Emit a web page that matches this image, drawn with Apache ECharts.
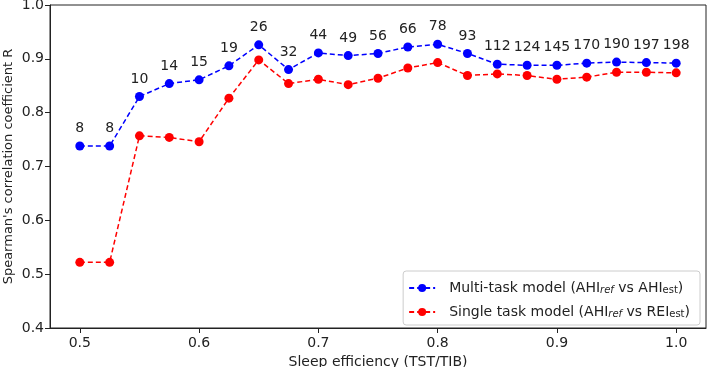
<!DOCTYPE html>
<html>
<head>
<meta charset="utf-8">
<script src="https://cdn.jsdelivr.net/npm/echarts@6/dist/echarts.min.js"></script>
<style>
  html, body { margin: 0; padding: 0; background: #fff; }
  #chart { width: 708px; height: 367px; }
</style>
</head>
<body>
<div id="chart"></div>
<script>
// sleep efficiency thresholds
var efficiency = [0.5, 0.525, 0.55, 0.575, 0.6, 0.625, 0.65, 0.675, 0.7, 0.725, 0.75,
  0.775, 0.8, 0.825, 0.85, 0.875, 0.9, 0.925, 0.95, 0.975, 1.0]
// multi-task model R
var multiTask = [0.738, 0.738, 0.830, 0.854, 0.861, 0.887, 0.926, 0.880, 0.911, 0.906, 0.910,
  0.922, 0.927, 0.910, 0.890, 0.888, 0.888, 0.892, 0.894, 0.893, 0.892]
// single task model R
var singleTask = [0.522, 0.522, 0.757, 0.754, 0.746, 0.827, 0.898, 0.854, 0.862, 0.852, 0.864,
  0.883, 0.893, 0.869, 0.872, 0.869, 0.862, 0.866, 0.875, 0.875, 0.874]
// number of subjects per point
var counts = [8, 8, 10, 14, 15, 19, 26, 32, 44, 49, 56, 66, 78, 93, 112, 124, 145, 170, 190, 197, 198]
var xTicks = [0.5, 0.6, 0.7, 0.8, 0.9, 1.0]

var font = 'DejaVu Sans'
var ink = '#222'

function pairs (ys) {
  return efficiency.map(function (x, i) { return [x, ys[i]] })
}

var chart = echarts.init(document.getElementById('chart'))

var sub = { fontSize: 10, fontFamily: font, color: ink, verticalAlign: 'bottom', lineHeight: 10, padding: [8, 0, 0, 0] }

chart.setOption({
  animation: false,
  textStyle: { fontFamily: font },
  grid: {
    left: 50, right: 2, top: 5, bottom: 39,
    outerBoundsMode: 'none',
    containLabel: false,
    show: true, borderColor: ink, borderWidth: 1
  },
  legend: {
    orient: 'vertical',
    right: 8,
    top: 271,
    itemWidth: 26,
    itemHeight: 10,
    itemGap: 6,
    padding: [6, 10, 6, 5],
    borderColor: '#ccc',
    borderWidth: 1,
    borderRadius: 3,
    textStyle: {
      fontSize: 14,
      fontFamily: font,
      color: ink,
      padding: [0, 0, 0, 9],
      rich: {
        it: Object.assign({}, sub, { fontStyle: 'italic' }),
        up: sub
      }
    },
    formatter: function (name) {
      if (name === 'multi') return 'Multi-task model (AHI{it|ref} vs AHI{up|est})'
      return 'Single task model (AHI{it|ref} vs REI{up|est})'
    }
  },
  xAxis: {
    type: 'value',
    min: 0.475,
    max: 1.025,
    name: 'Sleep efficiency (TST/TIB)',
    nameLocation: 'middle',
    nameGap: 25,
    nameTextStyle: { fontSize: 14, color: ink, fontFamily: font },
    axisLine: { lineStyle: { color: ink } },
    axisTick: { show: true, length: 5, lineStyle: { color: ink }, customValues: xTicks },
    axisLabel: {
      fontSize: 14, color: ink, margin: 8, customValues: xTicks,
      formatter: function (v) { return v.toFixed(1) }
    },
    splitLine: { show: false }
  },
  yAxis: {
    type: 'value',
    min: 0.4,
    max: 1.0,
    interval: 0.1,
    name: "Spearman's correlation coefficient R",
    nameLocation: 'middle',
    nameGap: 35,
    nameMoveOverlap: false,
    nameTextStyle: { fontSize: 13, color: ink, fontFamily: font },
    axisLine: { show: true, lineStyle: { color: ink } },
    axisTick: { show: true, length: 5, lineStyle: { color: ink } },
    axisLabel: {
      fontSize: 14, color: ink, margin: 6,
      formatter: function (v) { return v.toFixed(1) }
    },
    splitLine: { show: false }
  },
  series: [
    {
      name: 'multi',
      type: 'line',
      data: pairs(multiTask),
      symbol: 'circle',
      symbolSize: 9,
      itemStyle: { color: '#0000ff' },
      lineStyle: { color: '#0000ff', width: 1.5, type: [5, 3] },
      label: {
        show: true,
        position: 'top',
        distance: 6,
        fontSize: 14,
        color: ink,
        fontFamily: font,
        formatter: function (p) { return counts[p.dataIndex] }
      },
      z: 3
    },
    {
      name: 'single',
      type: 'line',
      data: pairs(singleTask),
      symbol: 'circle',
      symbolSize: 9,
      itemStyle: { color: '#ff0000' },
      lineStyle: { color: '#ff0000', width: 1.5, type: [5, 3] },
      z: 2
    }
  ]
})
</script>
</body>
</html>
